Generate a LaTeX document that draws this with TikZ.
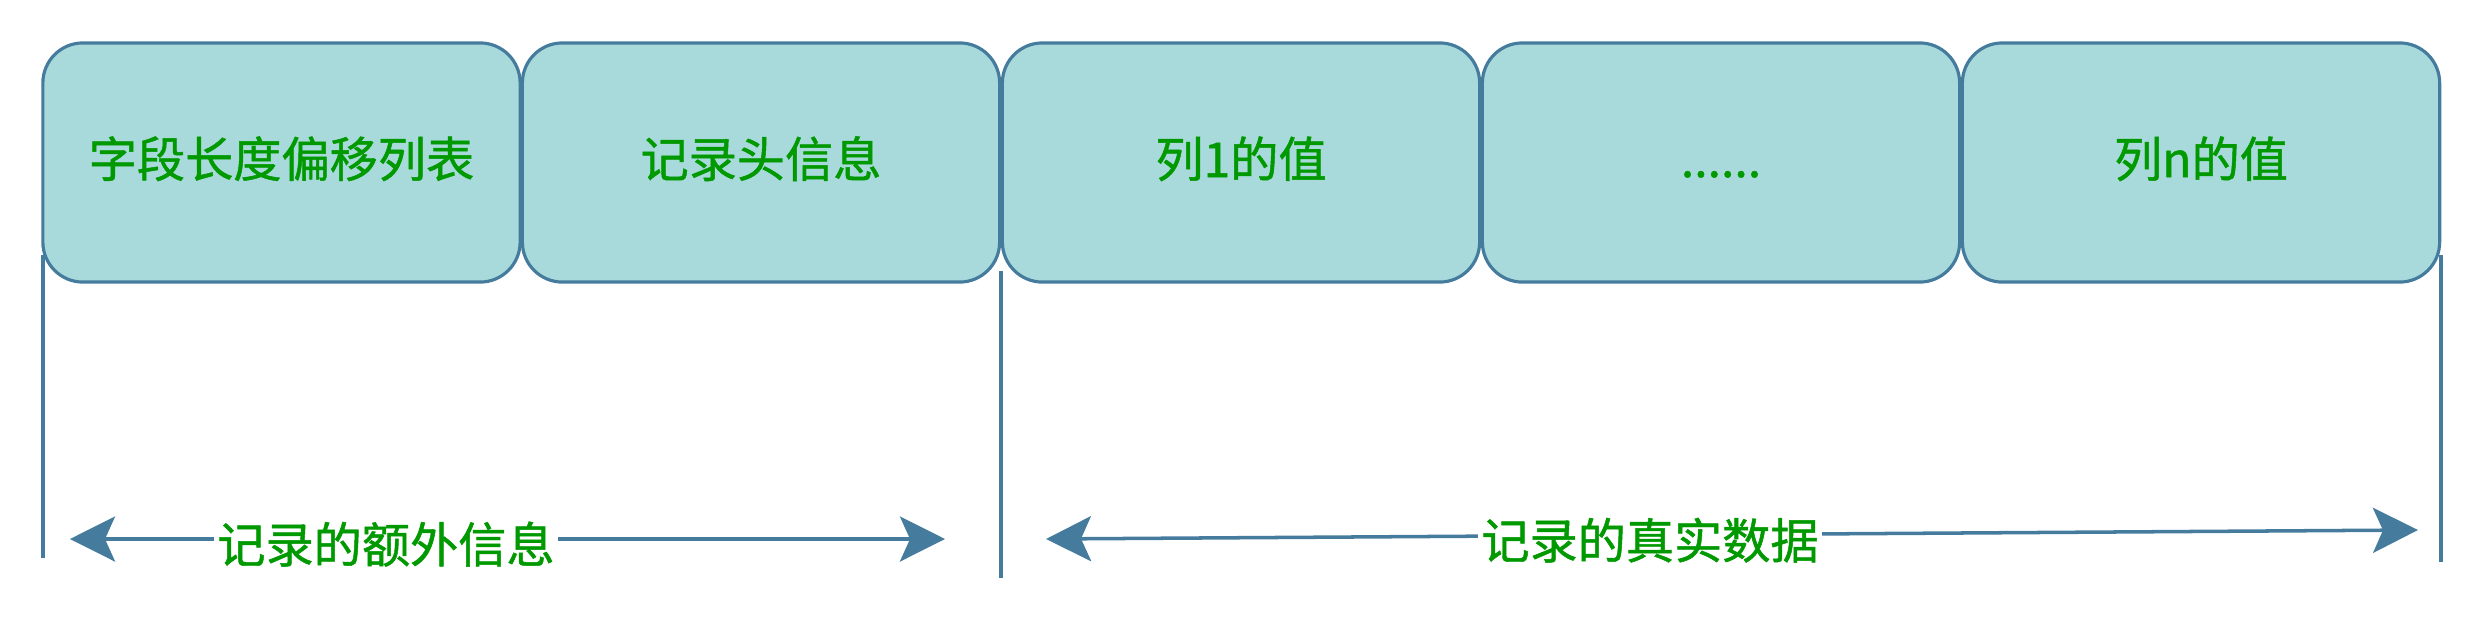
\documentclass[tikz,border=0pt]{standalone}
\usepackage{fontspec}
\setmainfont{Noto Sans CJK SC}[AutoFakeBold=1]
\usetikzlibrary{arrows.meta}
\definecolor{cellfill}{HTML}{A8DADC}
\definecolor{cellline}{HTML}{457B9D}
\definecolor{labelgreen}{HTML}{009900}
\tikzset{
  cell/.style={draw=cellline,fill=cellfill,line width=0.9pt,rounded corners=0.4cm,
    minimum width=4.77cm,minimum height=2.39cm,inner sep=0pt,
    text height=11pt,text depth=2.7pt,font=\fontsize{13.7}{16}\selectfont\bfseries,text=labelgreen},
  markline/.style={draw=cellline,line width=1pt},
  span/.style={draw=cellline,line width=1pt,
    {Stealth[length=0.45cm,width=0.45cm,inset=0.1cm]}-{Stealth[length=0.45cm,width=0.45cm,inset=0.1cm]}},
  spantext/.style={fill=white,inner sep=1pt,text height=11pt,text depth=2.7pt,
    font=\fontsize{13.7}{16}\selectfont\bfseries,text=labelgreen}
}
\begin{document}
\begin{tikzpicture}[x=0.01cm,y=-0.01cm]
\useasboundingbox (0,0) rectangle (2488,624);

% Record cells
\node[cell] (fields) at (281.5,162.5) {字段长度偏移列表};
\node[cell] (header) at (761,162.5) {记录头信息};
\node[cell] (col1) at (1241,162.5) {列1的值};
\node[cell] (dots) at (1721,162.5) {......};
\node[cell] (coln) at (2201,162.5) {列n的值};

% Boundary lines
\draw[markline] (43,255) -- (43,558);
\draw[markline] (1001,271) -- (1001,578);
\draw[markline] (2441,255) -- (2441,562);

% Spans
\coordinate (extra l) at (70,539);
\coordinate (extra r) at (945,539);
\coordinate (data l) at (1046,539);
\coordinate (data r) at (2418,530);
\draw[span] (extra l) -- (extra r);
\draw[span] (data l) -- (data r);
\node[spantext] (extra) at (386,548) {记录的额外信息};
\node[spantext] (data) at (1650,544) {记录的真实数据};
\end{tikzpicture}
\end{document}
